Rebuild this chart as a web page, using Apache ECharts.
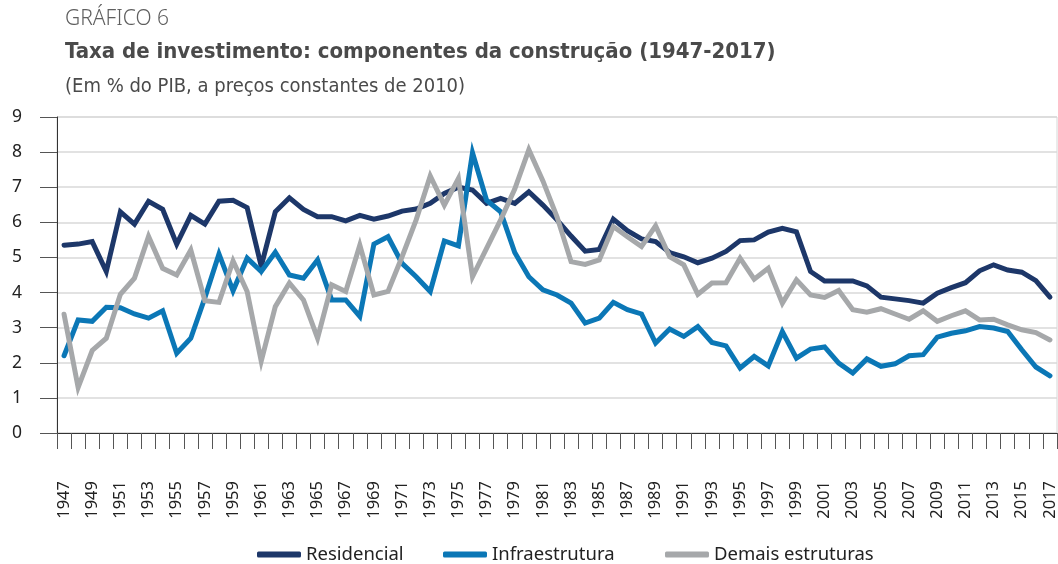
<!DOCTYPE html>
<html>
<head>
<meta charset="utf-8">
<script src="https://cdn.jsdelivr.net/npm/echarts@6/dist/echarts.min.js"></script>
<style>
  html, body { margin: 0; padding: 0; background: #fff; }
  #chart { width: 1058px; height: 564px; }
</style>
</head>
<body>
<div id="chart"></div>
<script>
// anos 1947-2017
const anos = [];
for (let a = 1947; a <= 2017; a++) anos.push(String(a));

const residencial = [
  5.35, 5.38, 5.45, 4.6, 6.3, 5.95, 6.6, 6.37, 5.38, 6.2,        // 1947-1956
  5.95, 6.6, 6.63, 6.42, 4.75, 6.3, 6.7, 6.37, 6.16, 6.16,       // 1957-1966
  6.04, 6.2, 6.09, 6.18, 6.32, 6.38, 6.54, 6.82, 7.0, 6.92,      // 1967-1976
  6.54, 6.68, 6.54, 6.87, 6.49, 6.07, 5.61, 5.18, 5.23, 6.09,    // 1977-1986
  5.76, 5.53, 5.45, 5.14, 5.02, 4.85, 4.98, 5.17, 5.48, 5.5,     // 1987-1996
  5.72, 5.83, 5.73, 4.6, 4.33, 4.33, 4.33, 4.19, 3.87, 3.82,     // 1997-2006
  3.77, 3.7, 3.98, 4.14, 4.28, 4.62, 4.79, 4.64, 4.58, 4.34,     // 2007-2016
  3.87                                                           // 2017
];

const infraestrutura = [
  2.2, 3.22, 3.18, 3.58, 3.57, 3.39, 3.27, 3.48, 2.27, 2.7,
  3.85, 5.1, 4.05, 4.98, 4.6, 5.15, 4.5, 4.41, 4.93, 3.79,
  3.79, 3.32, 5.38, 5.59, 4.83, 4.45, 4.03, 5.47, 5.33, 7.98,
  6.63, 6.3, 5.14, 4.45, 4.08, 3.93, 3.7, 3.13, 3.27, 3.72,
  3.51, 3.39, 2.56, 2.96, 2.75, 3.03, 2.58, 2.48, 1.85, 2.18,
  1.91, 2.89, 2.13, 2.39, 2.45, 1.99, 1.71, 2.11, 1.9, 1.97,
  2.2, 2.23, 2.73, 2.84, 2.91, 3.03, 2.99, 2.89, 2.37, 1.88,
  1.63
];

const demais = [
  3.38, 1.3, 2.35, 2.7, 3.95, 4.41, 5.6, 4.69, 4.5, 5.21,
  3.77, 3.72, 4.9, 4.03, 2.05, 3.6, 4.27, 3.79, 2.7, 4.22,
  4.03, 5.35, 3.93, 4.03, 5.02, 6.07, 7.32, 6.49, 7.25, 4.45,
  5.26, 6.07, 6.95, 8.07, 7.18, 6.16, 4.88, 4.8, 4.93, 5.88,
  5.59, 5.31, 5.9, 5.02, 4.79, 3.95, 4.27, 4.28, 4.98, 4.38,
  4.69, 3.7, 4.36, 3.93, 3.86, 4.06, 3.51, 3.44, 3.54, 3.39,
  3.24, 3.48, 3.18, 3.34, 3.48, 3.22, 3.24, 3.08, 2.94, 2.86,
  2.65
];

const yTicks = [0, 1, 2, 3, 4, 5, 6, 7, 8, 9];
const nomes = ["Residencial", "Infraestrutura", "Demais estruturas"];

const cores = ["#1d3769", "#0b77b6", "#a6a8aa"];
const fonteTexto = "'Noto Sans', 'Open Sans', sans-serif";
const fonteTitulo = "'DejaVu Sans Condensed', 'Liberation Sans Narrow', sans-serif";

const chart = echarts.init(document.getElementById("chart"));

function serie(nome, dados, cor) {
  return {
    name: nome,
    type: "line",
    data: dados,
    symbol: "none",
    lineStyle: { color: cor, width: 5, cap: "round", join: "miter" },
    itemStyle: { color: cor },
    emphasis: { disabled: true },
  };
}

// uma legenda por serie, para acertar o espacamento do original
function legenda(nome, esquerda) {
  return {
    top: 540,
    left: esquerda,
    itemWidth: 44,
    itemHeight: 6,
    icon: "roundRect",
    textStyle: { fontFamily: fonteTexto, fontSize: 18.5, color: "#222" },
    data: [nome],
  };
}

const option = {
  animation: false,
  color: cores,
  title: [
    {
      text: "GRÁFICO 6",
      left: 60, top: 4,
      textStyle: { fontFamily: fonteTexto, fontSize: 21, fontWeight: 300, color: "#5f5f5f" },
    },
    {
      text: "Taxa de investimento: componentes da construção (1947-2017)",
      left: 60, top: 36,
      textStyle: { fontFamily: fonteTitulo, fontSize: 22, fontWeight: "bold", color: "#4a4a4a" },
    },
    {
      text: "(Em % do PIB, a preços constantes de 2010)",
      left: 60, top: 72,
      textStyle: { fontFamily: fonteTitulo, fontSize: 20, fontWeight: "normal", color: "#4a4a4a" },
    },
  ],
  legend: [
    legenda(nomes[0], 252),
    legenda(nomes[1], 438),
    legenda(nomes[2], 660),
  ],
  grid: {
    left: 57, right: 1, top: 117, bottom: 131,
    outerBoundsMode: "none",
    show: true,
    borderColor: "#d6d6d6",
    borderWidth: 1,
  },
  xAxis: {
    type: "category",
    data: anos,
    boundaryGap: true,
    axisLine: { lineStyle: { color: "#333", width: 1 } },
    axisTick: { show: true, interval: 0, length: 16, lineStyle: { color: "#555" } },
    axisLabel: {
      interval: 1,
      rotate: 90,
      margin: 48,
      fontFamily: fonteTexto,
      fontSize: 16.5,
      color: "#222",
    },
    splitLine: { show: false },
  },
  yAxis: {
    type: "value",
    min: yTicks[0],
    max: yTicks[yTicks.length - 1],
    interval: 1,
    axisLine: { show: true, lineStyle: { color: "#333", width: 1 } },
    axisTick: { show: true, inside: false, length: 17, lineStyle: { color: "#555" } },
    axisLabel: {
      margin: 45,
      align: "left",
      fontFamily: fonteTexto,
      fontSize: 17.5,
      color: "#222",
    },
    splitLine: { show: true, lineStyle: { color: "#d9d9d9", width: 1.5 } },
  },
  series: [
    serie(nomes[0], residencial, cores[0]),
    serie(nomes[1], infraestrutura, cores[1]),
    serie(nomes[2], demais, cores[2]),
  ],
};

chart.setOption(option);
</script>
</body>
</html>
